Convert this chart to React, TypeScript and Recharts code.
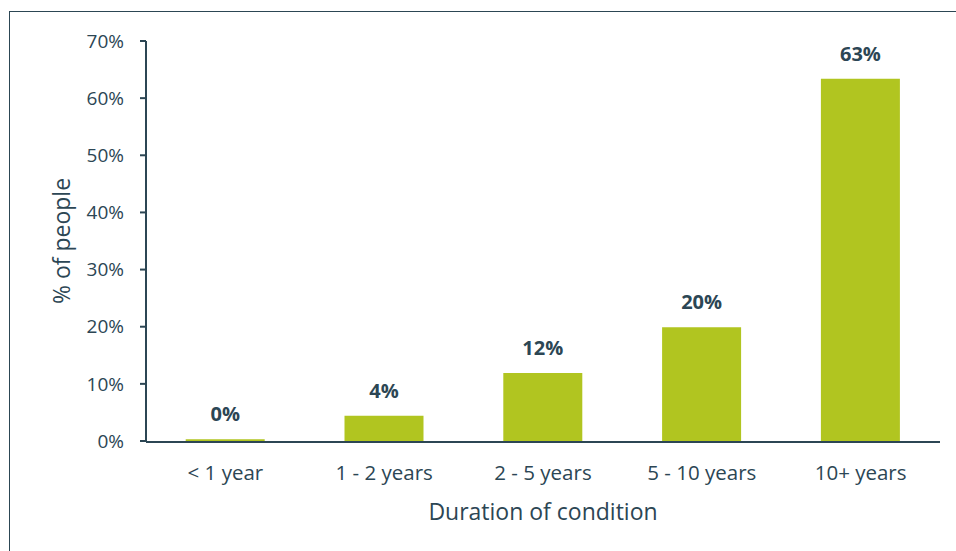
import { BarChart, Bar, XAxis, YAxis, LabelList } from "recharts";

const categories = ["< 1 year", "1 - 2 years", "2 - 5 years", "5 - 10 years", "10+ years"];
const shares = [0.3, 4.4, 11.9, 19.9, 63.4];
const yTicks = [0, 10, 20, 30, 40, 50, 60, 70];
const edgeTicks = [0, 1, 2, 3, 4, 5];

const data = categories.map((name, i) => ({ name, share: shares[i], slot: i + 0.5 }));

const INK = "#2c4654";
const BAR = "#b1c520";
const FONT = "'Open Sans', sans-serif";

export default function App() {
  return (
    <div
      style={{
        position: "fixed",
        left: 0,
        top: 0,
        width: 956,
        height: 551,
        overflow: "hidden",
        background: "#fff",
        fontFamily: FONT,
      }}
    >
      {/* frame around the chart, runs off the right and bottom */}
      <div
        style={{
          position: "absolute",
          left: 9,
          top: 11,
          width: 1000,
          height: 1000,
          border: `1.5px solid ${INK}`,
        }}
      />
      <div style={{ position: "absolute", left: 0, top: 0 }}>
        <BarChart
          width={956}
          height={551}
          data={data}
          margin={{ top: 41, right: 16, bottom: 30, left: 0 }}
          barCategoryGap="25%"
        >
          {/* category names only; kept thin so the baseline axis sits right under the bars */}
          <XAxis
            dataKey="name"
            height={1}
            axisLine={false}
            tickLine={false}
            tickSize={6}
            tickMargin={18}
            tick={{ fill: INK, fontSize: 20.5, fontFamily: FONT }}
            label={{
              value: "Duration of condition",
              position: "center",
              dy: 70,
              fill: INK,
              fontSize: 23,
              fontFamily: FONT,
            }}
          />
          {/* numeric helper axis: baseline with ticks at the category edges */}
          <XAxis
            xAxisId="edges"
            dataKey="slot"
            type="number"
            domain={[0, 5]}
            allowDataOverflow
            ticks={edgeTicks}
            height={79}
            tick={false}
            tickSize={6}
            stroke={INK}
            strokeWidth={2}
          />
          <YAxis
            width={146}
            domain={[0, 70]}
            ticks={yTicks}
            tickFormatter={(v: number) => `${v}%`}
            tickSize={6}
            tickMargin={16}
            stroke={INK}
            strokeWidth={2}
            tick={{ fill: INK, fontSize: 19, fontFamily: FONT }}
            label={{
              value: "% of people",
              angle: -90,
              position: "center",
              dx: -11,
              fill: INK,
              fontSize: 23,
              fontFamily: FONT,
            }}
          />
          <Bar dataKey="share" fill={BAR} isAnimationActive={false}>
            <LabelList
              dataKey="share"
              position="top"
              offset={18}
              formatter={(v: number) => `${Math.round(v)}%`}
              fill={INK}
              fontSize={20}
              fontWeight={700}
              fontFamily={FONT}
            />
          </Bar>
        </BarChart>
      </div>
    </div>
  );
}
